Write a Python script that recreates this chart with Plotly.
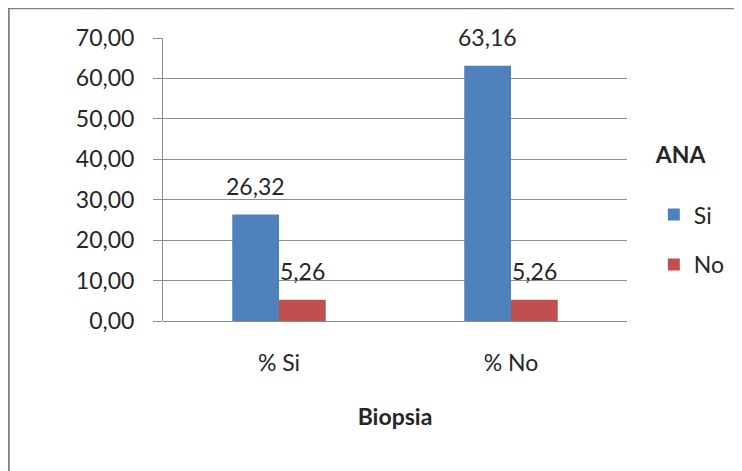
import plotly.graph_objects as go

categories = ["% Si", "% No"]
series_names = ["Si", "No"]
si_values = [26.32, 63.16]
no_values = [5.26, 5.26]
y_ticks = [0, 10, 20, 30, 40, 50, 60, 70]

# page body has an 8px default margin; work in reference (screen) pixels
OFF = 8
W, H = 742 - OFF, 471 - OFF
plot_left, plot_right, plot_top, plot_bottom = 163, 630, 37.5, 321
L = plot_left - OFF
T = plot_top - OFF
R = W - (plot_right - OFF)
B = H - (plot_bottom - OFF)
pw, ph = W - L - R, H - T - B

blue = "#4F81BD"
red = "#C0504D"
grid = "#8c8c8c"
txt = "#262626"
FONT = "Lato"
FS = 23


def fmt(v):
    return f"{v:.2f}".replace(".", ",")


def px_to_paper_x(px):
    return (px - plot_left) / pw


def px_to_paper_y(py):
    return (plot_bottom - py) / ph


fig = go.Figure()
for name, vals, col in zip(series_names, [si_values, no_values], [blue, red]):
    fig.add_trace(go.Bar(
        x=categories, y=vals, name=name, marker_color=col,
        marker_line_width=0, legendgroup=name,
    ))

# data labels above each bar
bar_px = pw / len(categories) * (1 - 0.597) / 2
for i, vals in enumerate([si_values, no_values]):
    shift = (i - 0.5) * bar_px
    for c, v in zip(categories, vals):
        fig.add_annotation(
            x=c, y=v, xref="x", yref="y", text=fmt(v), showarrow=False,
            xshift=shift, yshift=13, yanchor="bottom",
            font=dict(family=FONT, size=FS, color=txt),
        )

# outer border
fig.add_shape(type="rect", xref="paper", yref="paper",
              x0=px_to_paper_x(7.5), x1=px_to_paper_x(760),
              y0=px_to_paper_y(490), y1=px_to_paper_y(7.5),
              line=dict(color="#808080", width=2.5), layer="below")

fig.update_layout(
    width=W, height=H,
    margin=dict(l=L, r=R, t=T, b=B, pad=0),
    paper_bgcolor="white", plot_bgcolor="white",
    barmode="group", bargap=0.597, bargroupgap=0,
    separators=",.",
    font=dict(family=FONT, size=FS, color=txt),
    showlegend=True,
    legend=dict(
        title=dict(text="<b>ANA</b><br> ", font=dict(family=FONT, size=FS, color=txt)),
        x=px_to_paper_x(657), xanchor="left",
        y=px_to_paper_y(133), yanchor="top",
        tracegroupgap=17, font=dict(family=FONT, size=FS, color=txt),
        bgcolor="rgba(0,0,0,0)",
    ),
    xaxis=dict(
        showgrid=False, showline=False, ticks="", zeroline=False,
        ticklabelstandoff=26,
        title=dict(text="<b>Biopsia</b>", standoff=33, font=dict(family=FONT, size=FS, color=txt)),
        tickfont=dict(family=FONT, size=FS, color=txt),
    ),
    yaxis=dict(
        range=[0, 70], tickvals=y_ticks, tickformat=".2f",
        showgrid=True, gridcolor=grid, gridwidth=1,
        showline=True, linecolor=grid, linewidth=1,
        ticks="outside", ticklen=9, tickcolor=grid,
        zeroline=True, zerolinecolor=grid, zerolinewidth=1,
        ticklabelstandoff=14,
        tickfont=dict(family=FONT, size=FS, color=txt),
    ),
)

fig.write_html("out.html")
